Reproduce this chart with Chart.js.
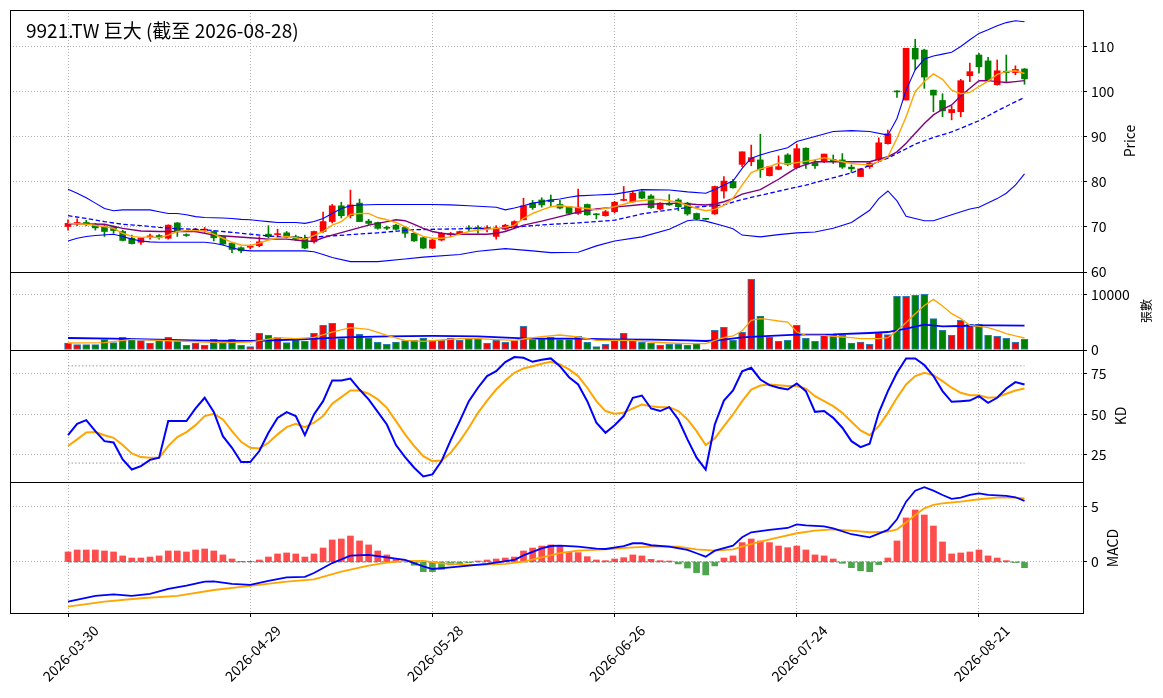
<!DOCTYPE html>
<html>
<head>
<meta charset="utf-8">
<script src="https://cdn.jsdelivr.net/npm/chart.js@4.4.1/dist/chart.umd.min.js"></script>
<style>
  html, body { margin: 0; padding: 0; background: #fff; }
  #wrap { position: relative; width: 1163px; height: 698px; overflow: hidden; }
  canvas { position: absolute; left: 0; }
</style>
</head>
<body>
<div id="wrap">
  <canvas id="cPrice" width="1163" height="294" style="top:-6px"></canvas>
  <canvas id="cVol" width="1163" height="110" style="top:256px"></canvas>
  <canvas id="cKd" width="1163" height="164" style="top:334px"></canvas>
  <canvas id="cMacd" width="1163" height="232" style="top:466px"></canvas>
</div>
<script>
// trading days, one per bar
const dates = [
  '2026-03-30','2026-03-31','2026-04-01','2026-04-02','2026-04-07','2026-04-08','2026-04-09','2026-04-10','2026-04-13','2026-04-14',
  '2026-04-15','2026-04-16','2026-04-17','2026-04-20','2026-04-21','2026-04-22','2026-04-23','2026-04-24','2026-04-27','2026-04-28',
  '2026-04-29','2026-04-30','2026-05-04','2026-05-05','2026-05-06','2026-05-07','2026-05-08','2026-05-11','2026-05-12','2026-05-13',
  '2026-05-14','2026-05-15','2026-05-18','2026-05-19','2026-05-20','2026-05-21','2026-05-22','2026-05-25','2026-05-26','2026-05-27',
  '2026-05-28','2026-05-29','2026-06-01','2026-06-02','2026-06-03','2026-06-04','2026-06-05','2026-06-08','2026-06-09','2026-06-10',
  '2026-06-11','2026-06-12','2026-06-15','2026-06-16','2026-06-17','2026-06-18','2026-06-22','2026-06-23','2026-06-24','2026-06-25',
  '2026-06-26','2026-06-29','2026-06-30','2026-07-01','2026-07-02','2026-07-03','2026-07-06','2026-07-07','2026-07-08','2026-07-09',
  '2026-07-10','2026-07-13','2026-07-14','2026-07-15','2026-07-16','2026-07-17','2026-07-20','2026-07-21','2026-07-22','2026-07-23',
  '2026-07-24','2026-07-27','2026-07-28','2026-07-29','2026-07-30','2026-07-31','2026-08-03','2026-08-04','2026-08-05','2026-08-06',
  '2026-08-07','2026-08-10','2026-08-11','2026-08-12','2026-08-13','2026-08-14','2026-08-17','2026-08-18','2026-08-19','2026-08-20',
  '2026-08-21','2026-08-24','2026-08-25','2026-08-26','2026-08-27','2026-08-28'
];

const open = [
  70.1,70.7,71.0,70.6,70.2,70.1,69.0,67.5,66.6,67.8, 68.1,67.5,70.9,68.3,69.0,69.3,69.0,67.9,66.4,65.4,
  65.5,65.85,68.4,68.3,68.7,67.85,67.5,66.7,69.0,71.2, 74.7,72.5,75.3,71.3,71.0,69.9,70.4,69.9,68.6,67.6,
  65.3,67.1,68.3,68.4,69.8,69.9,69.6,67.9,69.5,69.9, 71.6,75.3,76.0,76.0,75.0,74.5,73.0,75.0,72.9,72.5,
  73.4,75.9,75.6,77.85,76.9,74.0,75.1,76.0,75.3,73.0, 71.8,72.9,78.0,80.1,83.9,84.5,84.9,81.4,82.8,86.0,
  83.2,87.5,84.3,84.7,85.0,84.9,83.3,81.2,83.4,84.9, 88.5,100.2,98.2,109.7,109.3,100.4,98.1,95.4,95.6,103.6,
  108.2,106.9,101.6,104.6,104.3,105.1
];
const high = [
  71.6,71.8,71.5,70.8,70.4,70.2,69.3,68.2,67.7,68.4, 68.3,70.5,71.0,68.5,69.7,69.9,69.2,67.9,66.5,65.6,
  66.0,67.85,70.3,69.5,69.0,68.2,68.2,69.1,73.3,75.0, 75.5,78.2,76.2,71.7,71.1,70.2,70.6,70.1,68.8,67.8,
  67.3,68.8,68.8,69.1,70.3,70.3,70.3,70.3,70.6,71.4, 76.4,75.9,76.5,77.1,75.9,74.6,78.4,75.1,73.0,73.7,
  75.7,79.0,78.0,78.1,77.2,75.4,77.2,76.3,75.5,73.1, 71.9,79.1,81.2,80.6,86.7,88.2,90.6,83.5,85.8,86.3,
  88.4,87.6,84.9,86.2,86.0,86.3,83.8,83.0,84.5,89.8, 91.5,100.3,109.7,111.7,109.5,100.4,99.6,96.9,102.8,106.4,
  108.6,107.7,107.1,108.2,105.8,105.2
];
const low = [
  69.3,70.3,70.3,69.3,67.9,68.6,66.9,66.2,66.1,67.3, 67.3,67.3,67.9,67.9,68.9,68.8,66.9,66.0,64.3,64.3,
  65.1,65.6,67.6,67.6,67.7,67.0,65.2,66.4,68.8,70.9, 72.0,72.0,71.2,70.4,69.5,69.4,69.3,67.7,66.8,65.2,
  65.2,66.9,67.8,68.3,69.0,68.6,68.9,67.3,69.3,69.6, 71.6,73.9,74.4,74.6,74.0,72.9,72.8,72.6,71.8,72.4,
  73.1,75.8,75.5,76.3,74.1,73.8,74.8,73.6,72.6,71.6, 71.6,72.8,76.4,78.6,83.4,83.6,81.0,81.3,82.7,83.6,
  83.0,83.0,83.0,84.3,84.1,83.0,82.1,81.2,83.0,84.7, 88.4,98.8,98.2,104.9,100.8,95.6,94.5,93.8,94.5,102.3,
  104.2,102.3,101.5,102.3,103.8,101.7
];
const close = [
  70.8,71.0,70.6,69.8,69.0,69.2,67.0,66.3,67.6,67.95, 67.6,70.4,69.0,68.1,69.5,69.45,67.6,66.2,65.0,64.7,
  65.65,66.7,67.85,68.45,67.8,67.3,65.3,69.0,71.2,74.7, 72.5,74.9,71.2,70.8,69.7,69.7,69.5,68.6,66.9,65.3,
  67.1,68.6,68.5,69.0,69.6,69.6,69.8,69.7,70.4,71.2, 74.7,74.3,74.9,75.6,74.2,73.0,74.4,72.7,72.7,73.4,
  75.5,76.1,77.5,76.4,74.3,75.3,74.9,74.5,72.9,71.8, 71.7,79.0,80.2,78.7,86.7,85.4,82.7,83.4,83.4,83.9,
  87.4,84.0,83.6,86.2,84.6,83.3,82.9,82.9,84.2,88.7, 90.7,100.0,109.7,107.3,103.3,99.3,95.8,96.1,102.5,104.5,
  105.6,102.7,104.7,104.3,105.0,102.9
];
const volume = [
  1270,970,970,970,1880,1330,2300,2120,1700,1210, 1700,2300,1640,850,1210,850,1940,1390,1940,850,
  610,3030,2670,2300,1330,1820,1640,3030,4480,4850, 2060,4850,2850,2180,1390,1030,1450,1700,1760,2180,
  1760,1760,2180,1760,2060,2060,1210,1760,1390,1700, 4300,1880,1970,2300,1880,1880,2480,1390,610,1030,
  1880,3030,1700,1390,1210,850,1030,1030,850,1210, 80,3580,4120,1760,3210,12850,6180,2300,1580,1760,
  4480,2120,1580,2670,2670,2670,1270,1450,1030,3090, 2790,9760,9760,9940,10120,5700,3580,2670,5390,4670,
  4670,2670,2480,2120,1390,1940
];

// overlay lines: [bar index, value]
const ma5 = [[0,70.8],[2,70.6],[4,70.1],[5,69.7],[6,68.6],[7,67.9],[8,67.7],[9,67.8],[10,67.6],[11,68.2],[12,69.0],[13,69.2],[14,69.2],[15,69.1],[16,68.4],[17,67.5],[18,66.6],[19,66.0],[20,65.9],[21,66.4],[22,67.1],[23,67.6],[24,67.9],[25,67.6],[26,67.3],[27,68.1],[28,69.0],[29,70.4],[30,71.2],[31,72.8],[32,73.0],[33,73.0],[34,72.1],[35,71.6],[36,71.0],[37,70.1],[38,68.8],[39,67.9],[40,67.5],[41,67.5],[42,67.8],[43,68.4],[44,69.0],[45,69.3],[46,69.5],[47,69.7],[48,69.9],[49,70.4],[50,71.9],[51,73.0],[52,73.8],[53,74.5],[54,74.7],[55,74.5],[56,74.3],[57,74.1],[58,73.8],[60,74.5],[62,75.6],[64,76.1],[65,76.1],[67,75.5],[69,74.1],[70,73.6],[71,73.9],[72,74.8],[73,76.4],[74,79.3],[75,82.1],[76,82.9],[77,83.4],[78,84.2],[79,84.0],[80,84.3],[82,84.9],[83,85.4],[84,84.9],[85,84.5],[86,84.1],[87,83.9],[88,83.8],[89,84.5],[90,85.6],[91,89.7],[92,94.5],[93,100.1],[94,102.3],[95,104.0],[96,102.8],[97,100.4],[98,99.6],[99,99.9],[100,101.2],[101,102.4],[102,103.9],[103,104.5],[104,104.7],[105,104.1]];
const ma10 = [[0,70.7],[2,70.7],[4,70.6],[6,69.7],[8,69.1],[10,69.0],[12,69.0],[14,69.0],[16,68.2],[18,67.9],[20,67.6],[22,67.3],[24,67.3],[26,66.9],[27,66.8],[28,67.6],[29,68.2],[31,69.3],[33,70.4],[35,71.2],[36,71.6],[37,71.4],[38,70.6],[39,69.7],[40,69.0],[41,68.6],[42,68.4],[46,68.4],[47,68.6],[48,69.0],[49,69.7],[50,70.4],[52,71.3],[54,72.3],[56,73.3],[58,74.0],[60,74.4],[63,75.0],[67,75.3],[69,75.0],[70,74.9],[71,75.1],[72,75.6],[73,76.3],[74,77.3],[76,78.3],[78,80.6],[79,81.9],[80,83.2],[82,84.5],[88,84.5],[90,85.6],[91,86.7],[92,88.6],[93,90.8],[94,93.0],[95,94.9],[96,96.1],[97,97.1],[98,99.1],[99,100.8],[100,102.5],[101,102.5],[102,102.3],[103,102.1],[104,102.3],[105,102.5]];
const ma20 = [[0,72.5],[2,71.9],[4,71.2],[6,70.6],[8,70.3],[10,69.9],[12,69.6],[14,69.5],[16,69.2],[18,68.8],[20,68.4],[22,68.0],[24,67.8],[26,67.6],[28,67.9],[31,68.3],[34,68.7],[38,69.4],[43,69.6],[48,69.8],[51,70.3],[53,70.6],[56,70.9],[58,71.2],[60,71.5],[63,72.9],[67,74.1],[70,74.6],[72,74.9],[74,76.1],[77,77.5],[79,78.4],[81,79.3],[83,80.4],[86,82.0],[89,84.5],[90,85.3],[93,88.4],[95,89.9],[97,91.1],[100,93.6],[102,95.8],[105,98.8]];
const bbUpper = [[0,78.4],[1,77.5],[2,76.5],[3,75.3],[4,74.1],[5,73.6],[6,73.8],[9,73.8],[10,73.4],[11,73.0],[12,73.0],[13,72.7],[14,72.3],[15,72.1],[17,72.0],[18,71.9],[19,71.7],[20,71.6],[21,71.4],[22,71.2],[23,71.0],[25,71.0],[26,70.8],[27,71.2],[28,71.9],[29,73.0],[30,74.1],[31,74.7],[32,74.9],[34,75.0],[40,75.0],[42,74.9],[44,74.7],[47,74.4],[48,73.8],[49,74.2],[50,74.7],[51,75.3],[52,75.6],[53,76.0],[54,76.2],[55,76.6],[56,76.9],[58,77.1],[60,77.3],[63,78.3],[66,78.2],[68,77.8],[70,77.5],[71,78.3],[72,79.3],[73,80.2],[74,83.0],[75,85.3],[76,86.0],[77,86.6],[78,87.1],[79,87.6],[80,89.0],[82,90.1],[84,91.2],[86,91.4],[88,91.2],[90,90.4],[91,94.1],[92,100.4],[93,104.9],[94,107.3],[95,108.0],[96,108.4],[97,108.8],[98,110.1],[99,111.6],[100,113.0],[101,113.8],[102,114.7],[103,115.4],[104,115.8],[105,115.6]];
const bbLower = [[0,66.9],[1,67.5],[2,67.9],[3,68.1],[5,68.4],[6,67.9],[7,67.3],[8,66.9],[9,66.7],[10,66.6],[15,66.6],[16,66.4],[17,66.0],[18,65.4],[19,64.9],[20,64.7],[26,64.7],[27,64.5],[28,63.9],[29,63.2],[31,62.3],[34,62.3],[37,62.9],[39,63.3],[43,63.9],[45,64.6],[48,65.2],[51,64.7],[53,64.3],[56,64.4],[58,65.8],[60,66.9],[63,67.8],[66,69.5],[68,71.4],[69,71.6],[70,71.3],[72,70.2],[73,69.6],[74,68.2],[76,67.8],[78,68.3],[80,68.7],[82,68.9],[84,69.7],[86,71.0],[88,73.7],[89,76.3],[90,78.0],[91,75.8],[92,72.4],[94,71.4],[95,71.4],[97,72.7],[99,74.0],[100,74.4],[102,76.3],[103,77.5],[104,79.3],[105,81.8]];

const volMa5 = [[0,1270],[4,1330],[7,1940],[10,1760],[12,1640],[15,1450],[17,1330],[20,1450],[23,2240],[25,2060],[27,2300],[29,3270],[31,4060],[33,3760],[35,2670],[37,1760],[39,1580],[41,1820],[43,2060],[45,2060],[47,1880],[49,1760],[50,2000],[52,2450],[54,2730],[56,2360],[58,1760],[62,1760],[64,1450],[66,1270],[68,1150],[70,1150],[71,1760],[72,2240],[73,2550],[74,3500],[75,5390],[76,5700],[77,5510],[78,5270],[79,5090],[80,3270],[81,2670],[83,2670],[84,2480],[85,2360],[86,2240],[87,2060],[89,2060],[90,2240],[91,3500],[92,5000],[93,6600],[94,8100],[95,9200],[96,8000],[97,6600],[98,5700],[99,4480],[100,4300],[101,4060],[102,3580],[103,2970],[104,2550],[105,2180]];
const volMa20 = [[0,2180],[5,2060],[10,1880],[15,1700],[20,1640],[25,1880],[30,2300],[35,2480],[40,2550],[45,2480],[50,2120],[52,2060],[56,2060],[60,1940],[64,1880],[68,1760],[70,1640],[72,1880],[74,2300],[76,2480],[80,2790],[84,2850],[88,3090],[90,3270],[92,3880],[94,4600],[96,4300],[98,4360],[100,4480],[102,4480],[105,4420]];

const kdK = [
  37.2,44.2,46.5,39.7,33.5,32.7,22.2,16.0,18.1,22.0, 23.3,45.9,45.9,45.9,53.7,60.3,51.6,36.6,29.4,20.6,
  20.6,27.4,38.7,47.9,51.4,49.0,37.2,50.0,58.2,71.0, 71.0,72.2,65.4,59.3,51.6,43.8,31.1,23.7,17.1,11.7,
  13.0,21.2,34.0,45.9,58.2,66.5,73.7,76.7,82.3,85.4, 85.0,82.5,83.8,84.6,79.8,73.0,68.5,58.2,44.9,38.7,
  43.4,49.0,60.3,61.7,53.7,52.1,54.5,46.9,34.6,23.3, 16.0,43.8,58.6,64.8,76.7,78.8,71.6,68.1,66.5,65.4,
  69.1,64.4,51.6,52.1,47.9,41.8,33.5,29.8,31.9,51.0, 64.4,75.7,84.6,84.6,80.5,73.7,64.4,57.8,58.2,58.6,
  61.3,57.2,60.3,66.0,70.0,68.5
];
const kdD = [
  30.5,34.6,38.9,39.1,37.2,35.6,31.1,25.9,23.7,23.3, 23.3,30.5,36.0,39.1,43.4,49.0,50.4,46.9,39.7,33.1,
  29.4,29.0,32.5,37.7,42.2,44.2,42.2,44.9,49.0,56.6, 60.7,64.8,64.8,62.8,59.3,54.1,45.9,37.7,30.5,24.3,
  21.2,21.6,26.3,33.5,41.8,51.0,58.6,65.4,71.0,75.7, 78.4,79.8,81.3,82.5,80.9,77.8,73.7,66.5,58.2,52.1,
  50.4,51.0,53.7,56.2,55.1,54.5,54.5,52.1,46.9,39.7, 31.1,35.2,42.8,50.0,58.2,65.4,67.9,68.5,68.1,67.5,
  67.5,66.0,61.3,58.2,55.1,51.0,45.5,40.1,37.2,42.8, 51.0,60.3,68.5,73.7,75.7,74.3,70.6,66.5,63.4,61.9,
  61.9,60.3,60.7,62.8,64.8,66.0
];
const kdLevels = [20, 80];

const macdHist = [
  0.91,1.09,1.09,1.09,1.0,0.91,0.55,0.36,0.36,0.45, 0.55,1.0,1.0,0.91,1.09,1.18,1.0,0.64,0.27,0.02,
  0.03,0.18,0.45,0.73,0.82,0.73,0.45,0.73,1.27,2.0, 2.09,2.36,1.91,1.55,1.0,0.64,0.27,0.1,-0.3,-0.88,
  -0.88,-0.67,-0.27,-0.18,-0.06,0.09,0.18,0.27,0.36,0.45, 1.0,1.27,1.45,1.55,1.45,0.91,0.85,0.48,0.18,0.12,
  0.27,0.39,0.64,0.55,0.24,0.12,0.09,-0.18,-0.55,-0.97, -1.18,-0.36,0.36,0.55,1.76,2.09,1.91,1.76,1.45,1.30,
  1.45,1.09,0.64,0.55,0.27,-0.12,-0.52,-0.79,-0.88,-0.24, 0.36,1.91,4.0,4.73,4.27,3.27,1.82,0.73,0.82,0.91,
  1.09,0.55,0.36,0.12,-0.03,-0.52
];
const dif = [[0,-3.61],[3,-3.09],[5,-2.94],[7,-3.09],[9,-2.9],[11,-2.45],[13,-2.15],[15,-1.79],[16,-1.76],[18,-2.0],[20,-2.09],[22,-1.73],[24,-1.4],[26,-1.36],[27,-1.0],[29,-0.1],[31,0.58],[33,0.64],[35,0.42],[37,0.18],[39,-0.4],[40,-0.64],[42,-0.5],[46,-0.18],[49,0.18],[50,0.6],[52,1.24],[53,1.45],[54,1.48],[56,1.39],[58,1.21],[59,1.18],[61,1.45],[62,1.7],[63,1.7],[64,1.52],[66,1.39],[68,1.09],[69,0.79],[70,0.48],[71,1.03],[73,1.48],[74,2.24],[75,2.7],[77,2.91],[79,3.09],[80,3.42],[81,3.33],[83,3.24],[84,3.06],[86,2.52],[88,2.24],[90,2.91],[91,3.88],[92,5.48],[93,6.48],[94,6.79],[95,6.48],[96,6.09],[97,5.73],[98,5.85],[99,6.09],[100,6.24],[101,6.09],[103,6.0],[104,5.88],[105,5.55]];
const dea = [[0,-4.06],[4,-3.6],[8,-3.3],[12,-3.09],[16,-2.55],[20,-2.18],[24,-1.79],[27,-1.58],[30,-0.88],[33,-0.33],[35,-0.06],[37,0.09],[39,0.09],[41,-0.12],[43,-0.21],[45,-0.27],[48,-0.18],[50,0.03],[52,0.42],[54,0.8],[56,1.03],[59,1.15],[62,1.33],[65,1.42],[67,1.39],[69,1.15],[71,1.03],[73,1.15],[74,1.39],[76,1.85],[78,2.24],[80,2.61],[82,2.85],[84,2.97],[86,2.85],[88,2.7],[90,2.76],[91,2.97],[92,3.58],[93,4.27],[94,4.88],[95,5.18],[96,5.33],[98,5.48],[100,5.7],[102,5.85],[104,5.85],[105,5.79]];

const xTickIdx = [0, 20, 40, 60, 80, 100];
const priceTicks = [60, 70, 80, 90, 100, 110];
const volTicks = [0, 10000];
const kdTicks = [25, 50, 75];
const macdTicks = [0, 5];

const chartTitle = '9921.TW 巨大 (截至 2026-08-28)';

// ---------- helpers ----------
const FONT = "'Noto Sans CJK TC', 'Noto Sans', sans-serif";
Chart.defaults.font.family = FONT;
Chart.defaults.font.size = 14;
Chart.defaults.color = '#000';
Chart.defaults.elements.point.radius = 0;
Chart.defaults.elements.line.tension = 0;

const X_MIN = -6.37, X_MAX = 111.42;
const PAD = 16; // room above/below each panel so edge tick labels never push the plot area
const GRID = '#b0b0b0';
const RED = '#ff0000', GREEN = '#008000';

const last = dates.length - 1;
const isUp = close.map((c, i) => c >= open[i]);
const candleColors = isUp.map(u => u ? RED : GREEN);
const pairs = arr => arr.map(([x, y]) => ({ x, y }));
const series = arr => arr.map((y, x) => ({ x, y }));
const hline = v => [{ x: 0, y: v }, { x: last, y: v }];

function lineSet(data, color, width, extra) {
  return Object.assign({ type: 'line', data, borderColor: color, borderWidth: width, fill: false, order: 0 }, extra || {});
}

function xAxis(showLabels) {
  return {
    type: 'linear', min: X_MIN, max: X_MAX, offset: false,
    afterBuildTicks: s => { s.ticks = xTickIdx.map(v => ({ value: v })); },
    grid: { color: GRID, lineWidth: 1, offset: false, drawTicks: showLabels, tickColor: '#000', tickLength: 4, tickWidth: 1 },
    border: { display: false, dash: [1, 2] },
    ticks: {
      display: showLabels, autoSkip: false, maxRotation: 45, minRotation: 45,
      labelOffset: 28, padding: 5, font: { size: 14 }, color: '#000',
      callback: v => dates[v]
    },
    afterFit: s => { s.height = showLabels ? 85 : 0; }
  };
}

function yAxis(min, max, ticks) {
  return {
    position: 'right', min, max,
    afterBuildTicks: s => { s.ticks = ticks.map(v => ({ value: v })); },
    grid: { color: GRID, lineWidth: 1, tickColor: '#000', tickLength: 4, tickWidth: 1 },
    border: { display: false, dash: [1, 2] },
    ticks: { padding: 4, font: { size: 14 }, color: '#000', callback: v => String(v) },
    afterFit: s => { s.width = 80; }
  };
}

// panel frame; top/bottom sit on the same pixel row as the neighbour's edge
const framePlugin = {
  id: 'frame',
  afterDraw(chart) {
    const { ctx, chartArea: a } = chart;
    const l = Math.round(a.left), t = Math.round(a.top);
    const r = Math.round(a.right), b = Math.round(a.bottom);
    ctx.save();
    ctx.strokeStyle = '#000';
    ctx.lineWidth = 1;
    ctx.strokeRect(l + 0.5, t + 0.5, r - l, b - t);
    ctx.restore();
  }
};

const textPlugin = {
  id: 'texts',
  afterDraw(chart, args, opts) {
    const ctx = chart.ctx;
    (opts.items || []).forEach(t => {
      ctx.save();
      ctx.font = t.font;
      ctx.fillStyle = '#000';
      ctx.textAlign = t.align || 'center';
      ctx.textBaseline = 'middle';
      ctx.translate(t.x, t.y);
      if (t.rotate) ctx.rotate(-Math.PI / 2);
      ctx.fillText(t.text, 0, 0);
      ctx.restore();
    });
  }
};

function makeChart(id, datasets, yOpts, showX, texts) {
  return new Chart(document.getElementById(id), {
    type: 'line',
    data: { datasets },
    options: {
      responsive: false, animation: false, events: [],
      layout: { padding: { left: 10, right: 0, top: PAD, bottom: showX ? 0 : PAD } },
      plugins: { legend: { display: false }, tooltip: { enabled: false }, texts: { items: texts } },
      scales: { x: xAxis(showX), y: yOpts }
    },
    plugins: [framePlugin, textPlugin]
  });
}

// ---------- price panel (canvas starts 6px above the page) ----------
makeChart('cPrice', [
  lineSet(pairs(ma5), '#ffa500', 1.4),
  lineSet(pairs(ma10), '#800080', 1.4),
  lineSet(pairs(ma20), '#0000ff', 1.3, { borderDash: [4.5, 2.5] }),
  lineSet(pairs(bbUpper), '#0000ff', 1.1),
  lineSet(pairs(bbLower), '#0000ff', 1.1),
  {
    type: 'bar', data: open.map((o, i) => ({ x: i, y: [o, close[i]] })),
    backgroundColor: candleColors, borderWidth: 0, barThickness: 6, minBarLength: 1,
    grouped: false, order: 1
  },
  {
    type: 'bar', data: low.map((l, i) => ({ x: i, y: [l, high[i]] })),
    backgroundColor: candleColors, borderWidth: 0, barThickness: 1,
    grouped: false, order: 2
  }
], yAxis(60, 118.2, priceTicks), false, [
  { text: chartTitle, x: 26, y: 37, font: '19px ' + FONT, align: 'left' },
  { text: 'Price', x: 1130, y: 147, font: '14px ' + FONT, rotate: true }
]);

// ---------- volume panel ----------
makeChart('cVol', [
  lineSet(pairs(volMa5), '#ffa500', 1.3),
  lineSet(pairs(volMa20), '#0000ff', 1.8),
  {
    type: 'bar', data: series(volume),
    backgroundColor: candleColors, borderColor: '#2b7bb9', borderWidth: 1, borderSkipped: false,
    barThickness: 7, grouped: false, order: 1
  }
], yAxis(0, 14180, volTicks), false, [
  { text: '張數', x: 1146, y: 55, font: '12px ' + FONT, rotate: true }
]);

// ---------- KD panel ----------
makeChart('cKd', [
  lineSet(series(kdK), '#0000ff', 2),
  lineSet(series(kdD), '#ffa500', 2),
  lineSet(hline(kdLevels[0]), '#999999', 1, { borderDash: [1.5, 2], order: 3 }),
  lineSet(hline(kdLevels[1]), '#999999', 1, { borderDash: [1.5, 2], order: 3 })
], yAxis(8.3, 89.8, kdTicks), false, [
  { text: 'KD', x: 1121, y: 82, font: '14px ' + FONT, rotate: true }
]);

// ---------- MACD panel ----------
makeChart('cMacd', [
  lineSet(pairs(dif), '#0000ff', 1.8),
  lineSet(pairs(dea), '#ffa500', 1.8),
  lineSet(hline(0), '#808080', 1, { borderDash: [4, 2], order: 3 }),
  {
    type: 'bar', data: series(macdHist),
    backgroundColor: macdHist.map(v => v >= 0 ? 'rgba(255,0,0,0.7)' : 'rgba(0,128,0,0.7)'),
    borderWidth: 0, barThickness: 6, grouped: false, order: 2
  }
], yAxis(-4.64, 7.27, macdTicks), true, [
  { text: 'MACD', x: 1113, y: 82, font: '14px ' + FONT, rotate: true }
]);
</script>
</body>
</html>
